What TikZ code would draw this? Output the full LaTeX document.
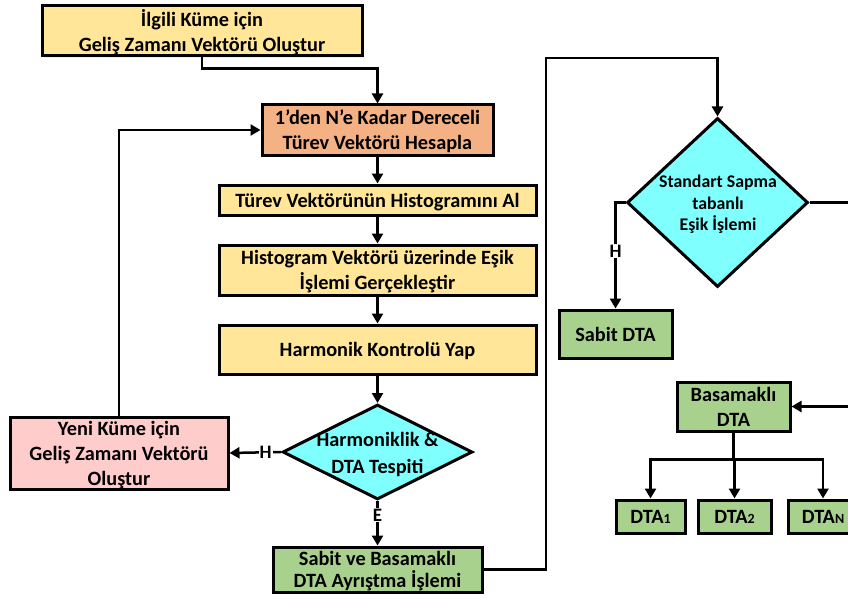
\documentclass[tikz,border=0pt]{standalone}
\usepackage{fontspec}
\setmainfont{Carlito}
\usetikzlibrary{shapes.geometric,arrows.meta,shadows}
\definecolor{boxyellow}{HTML}{FFE699}
\definecolor{boxsalmon}{HTML}{F4B183}
\definecolor{boxpink}{HTML}{FFCCCC}
\definecolor{boxgreen}{HTML}{A9D18E}
\definecolor{deccyan}{HTML}{80FFFF}
\begin{document}
\begin{tikzpicture}[x=1pt,y=-1pt,
  box/.style={draw=black,line width=3pt,rectangle,align=center,inner sep=0pt,text depth=0pt,
    font=\fontsize{20.3}{25}\selectfont\bfseries,
    drop shadow={shadow xshift=2pt,shadow yshift=-2pt,fill=gray!30}},
  decision/.style={draw=black,line width=3pt,diamond,inner sep=0pt,fill=deccyan},
  dectext/.style={align=center,inner sep=0pt,text depth=0pt,font=\fontsize{20.3}{27}\selectfont\bfseries},
  arrow/.style={draw=black,line width=2.5pt,-{Triangle[length=10pt,width=11pt]}},
  line/.style={draw=black,line width=2.5pt},
  answer/.style={fill=white,inner sep=1pt,font=\fontsize{19}{19}\selectfont\bfseries}]
\tikzstyle{every node}+=[text=black]
\useasboundingbox (0,0) rectangle (848,599);
\clip (0,0) rectangle (848,599);
\node[box,fill=boxyellow,minimum width=320,minimum height=50] (ilgili) at (202,31) {İlgili Küme için\\Geliş Zamanı Vektörü Oluştur};
\node[box,fill=boxsalmon,minimum width=231,minimum height=50] (turev) at (377.5,130) {1'den N’e Kadar Dereceli\\Türev Vektörü Hesapla};
\node[box,fill=boxyellow,minimum width=317,minimum height=30] (histo) at (377.5,200) {Türev Vektörünün Histogramını Al};
\node[box,fill=boxyellow,minimum width=317,minimum height=50] (esik) at (377.5,270) {Histogram Vektörü üzerinde Eşik\\İşlemi Gerçekleştir};
\node[box,fill=boxyellow,minimum width=317,minimum height=49] (harm) at (377.5,349.5) {Harmonik Kontrolü Yap};
\node[decision,minimum width=190,minimum height=95] (hdec) at (377.5,452) {};
\node[dectext] (hdectext) at (377.5,453) {Harmoniklik \&\\DTA Tespiti};
\node[box,fill=boxpink,minimum width=218,minimum height=72] (yeni) at (119,453) {Yeni Küme için\\Geliş Zamanı Vektörü\\Oluştur};
\node[box,fill=boxgreen,minimum width=209,minimum height=45,font=\fontsize{20.3}{22.5}\selectfont\bfseries] (sabitbas) at (377.5,569.5) {Sabit ve Basamaklı\\DTA Ayrıştma İşlemi};
\node[decision,minimum width=181,minimum height=169] (sdec) at (717.5,202.5) {};
\node[dectext,font=\fontsize{17.8}{21.5}\selectfont\bfseries] (sdectext) at (718,203) {Standart Sapma\\tabanlı\\Eşik İşlemi};
\node[box,fill=boxgreen,minimum width=113,minimum height=48] (sabitdta) at (615.5,334) {Sabit DTA};
\node[box,fill=boxgreen,minimum width=113,minimum height=49] (basdta) at (733.5,406.5) {Basamaklı\\DTA};
\node[box,fill=boxgreen,minimum width=69,minimum height=33] (dta1) at (650.5,516.5) {DTA{\fontsize{14}{14}\selectfont 1}};
\node[box,fill=boxgreen,minimum width=73,minimum height=33] (dta2) at (734.5,516.5) {DTA{\fontsize{14}{14}\selectfont 2}};
\node[box,fill=boxgreen,minimum width=70,minimum height=33] (dtan) at (823,516.5) {DTA{\fontsize{14}{14}\selectfont N}};
\coordinate (sright) at (860,202.5);
\coordinate (bright) at (860,406.5);
\draw[arrow] (ilgili.south) -- ++(0,11) -| (turev.north);
\draw[arrow] (turev.south) -- (histo.north);
\draw[arrow] (histo.south) -- (esik.north);
\draw[arrow] (esik.south) -- (harm.north);
\draw[arrow] (harm.south) -- (hdec.north);
\draw[arrow] (hdec.west) -- node[answer,pos=0.3] {H} (yeni.east);
\draw[arrow] (yeni.north) |- (turev.west);
\draw[arrow] (hdec.south) -- node[answer,pos=0.32] {E} (sabitbas.north);
\draw[arrow] (sabitbas.east) -| (546,58) -| (sdec.north);
\draw[arrow] (sdec.west) -| node[answer,pos=0.73] {H} (sabitdta.north);
\draw[line] (sdec.east) -- (sright);
\draw[arrow] (bright) -- (basdta.east);
\foreach \n in {dta1,dta2,dtan}
  \draw[arrow] (basdta.south) -- ++(0,27) -| (\n.north);
\end{tikzpicture}
\end{document}
